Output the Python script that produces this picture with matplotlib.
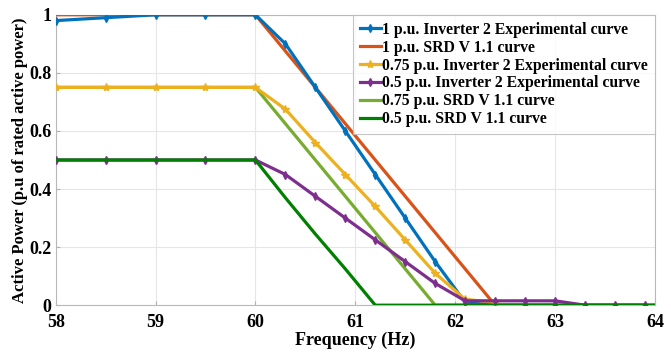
import matplotlib
matplotlib.use("Agg")
import matplotlib.pyplot as plt
from matplotlib.ticker import FuncFormatter

plt.rcParams['font.family'] = ['Liberation Serif', 'DejaVu Serif']
plt.rcParams['font.weight'] = 'bold'

# measured points, 1 p.u. inverter 2
f_exp1 = [58, 58.5, 59, 59.5, 60, 60.3, 60.6, 60.9, 61.2, 61.5, 61.8, 62.1, 62.4, 62.7, 63.0]
p_exp1 = [0.98, 0.99, 1.0, 1.0, 1.0, 0.9, 0.75, 0.6, 0.45, 0.3, 0.15, 0.01, 0.0, 0.0, 0.0]

# measured points, 0.75 p.u.
f_exp075 = [58, 58.5, 59, 59.5, 60, 60.3, 60.6, 60.9, 61.2, 61.5, 61.8, 62.1, 62.4]
p_exp075 = [0.75, 0.75, 0.75, 0.75, 0.75, 0.675, 0.56, 0.45, 0.34, 0.225, 0.11, 0.02, 0.01]

# measured points, 0.5 p.u.
f_exp05 = [58, 58.5, 59, 59.5, 60, 60.3, 60.6, 60.9, 61.2, 61.5, 61.8, 62.1, 62.4, 62.7, 63.0, 63.3, 63.6, 63.9]
p_exp05 = [0.5, 0.5, 0.5, 0.5, 0.5, 0.45, 0.375, 0.3, 0.225, 0.15, 0.075, 0.015, 0.015, 0.015, 0.015, 0.0, 0.0, 0.0]

# SRD V1.1 curves
f_srd1 = [58, 60, 62.4, 64]
p_srd1 = [1.0, 1.0, 0.0, 0.0]
f_srd075 = [58, 60, 61.8, 64]
p_srd075 = [0.75, 0.75, 0.0, 0.0]
f_srd05 = [58, 60, 60.3, 60.6, 60.9, 61.2, 64]
p_srd05 = [0.5, 0.5, 0.37, 0.245, 0.125, 0.0, 0.0]

fig = plt.figure(figsize=(6.71, 3.52), dpi=100)
ax = fig.add_axes([0.083, 0.133, 0.893, 0.825])

lw = 2.3
ax.plot(f_exp1, p_exp1, color='#0072BD', lw=lw, marker='d', ms=4,
        label='1 p.u. Inverter 2 Experimental curve', zorder=4)
ax.plot(f_srd1, p_srd1, color='#D95319', lw=lw, label='1 p.u. SRD V 1.1 curve', zorder=3)
ax.plot(f_exp075, p_exp075, color='#EDB120', lw=lw, marker='*', ms=6,
        label='0.75 p.u. Inverter 2 Experimental curve', zorder=4)
ax.plot(f_exp05, p_exp05, color='#7E2F8E', lw=lw, marker='d', ms=4,
        label='0.5 p.u. Inverter 2 Experimental curve', zorder=4)
ax.plot(f_srd075, p_srd075, color='#77AC30', lw=lw, label='0.75 p.u. SRD V 1.1 curve', zorder=3)
ax.plot(f_srd05, p_srd05, color='#008000', lw=lw, label='0.5 p.u. SRD V 1.1 curve', zorder=5)

ax.set_xlim(58, 64)
ax.set_ylim(0, 1)
ax.set_xticks([58, 59, 60, 61, 62, 63, 64])
ax.set_yticks([0, 0.2, 0.4, 0.6, 0.8, 1.0])
ax.yaxis.set_major_formatter(FuncFormatter(lambda v, p: '0' if v == 0 else ('1' if v == 1 else f'{v:.1f}')))
ax.tick_params(labelsize=13, length=3, color='#b0b0b0', direction='in')
ax.tick_params(axis='x', pad=6)
ax.tick_params(axis='y', pad=3)
for lbl in ax.get_xticklabels() + ax.get_yticklabels():
    lbl.set_fontweight('bold')
ax.grid(True, color='#e6e6e6', lw=0.8)
for s in ax.spines.values():
    s.set_color('#b8b8b8')

ax.set_xlabel('Frequency (Hz)', fontsize=13, fontweight='bold', labelpad=1)
ax.set_ylabel('Active Power (p.u of rated active power)', fontsize=12, fontweight='bold', labelpad=1)

leg = ax.legend(loc='upper right', handlelength=1.3, handletextpad=0.1,
                labelspacing=0.12, borderpad=0.45, borderaxespad=0, frameon=True, fancybox=False,
                prop={'weight': 'bold', 'size': 11.3})
leg.get_frame().set_edgecolor('#b8b8b8')
leg.get_frame().set_linewidth(0.8)

fig.savefig('out.png', dpi=100)
